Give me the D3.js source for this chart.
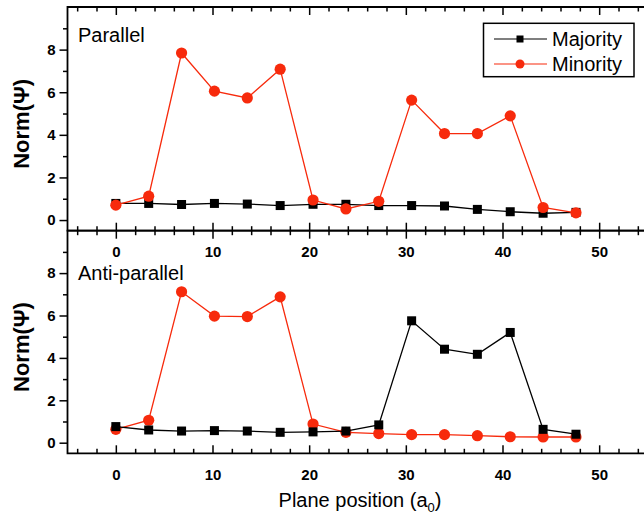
<!DOCTYPE html>
<html>
<head>
<meta charset="utf-8">
<script src="https://cdn.jsdelivr.net/npm/d3@7"></script>
<style>
  body { margin: 0; background: #fff; }
  svg { display: block; font-family: "Liberation Sans", Arial, sans-serif; }
</style>
</head>
<body>
<div id="chart"></div>
<script>
// plane positions (a0)
var position = [0, 3.4, 6.8, 10.2, 13.6, 17, 20.4, 23.8, 27.2, 30.6, 34, 37.4, 40.8, 44.2, 47.6];

// parallel panel
var parMajority = [0.78, 0.78, 0.73, 0.78, 0.75, 0.68, 0.74, 0.74, 0.68, 0.68, 0.66, 0.5, 0.39, 0.32, 0.36];
var parMinority = [0.70, 1.12, 7.84, 6.05, 5.73, 7.08, 0.94, 0.52, 0.88, 5.63, 4.06, 4.06, 4.89, 0.59, 0.34];

// anti-parallel panel
var antiMajority = [0.76, 0.6, 0.55, 0.57, 0.55, 0.49, 0.51, 0.55, 0.84, 5.75, 4.41, 4.17, 5.2, 0.63, 0.4];
var antiMinority = [0.63, 1.06, 7.12, 5.97, 5.95, 6.88, 0.88, 0.49, 0.43, 0.38, 0.38, 0.33, 0.28, 0.27, 0.27];

var panelNames = ["Parallel", "Anti-parallel"];
var seriesNames = ["Majority", "Minority"];
var xTicks = [0, 10, 20, 30, 40, 50];
var yTicks = [0, 2, 4, 6, 8];

var width = 644, height = 516,
    red = "#f72a0c",
    left = 67.5, right = 647.5,
    panels = [
      { name: panelNames[0], top: 7, bottom: 230.7, maj: parMajority, min: parMinority },
      { name: panelNames[1], top: 230.7, bottom: 453.3, maj: antiMajority, min: antiMinority }
    ];

var svg = d3.select("#chart").append("svg")
    .attr("width", width)
    .attr("height", height);

var x = d3.scaleLinear().domain([-5, 55]).range([left, right]);
var xMinor = d3.range(-4, 55, 2).filter(function (d) { return d % 10 != 0; });
var yMinor = [1, 3, 5, 7, 9];

panels.forEach(function (p, k) {
  var y = d3.scaleLinear().domain([-0.5, 10]).range([p.bottom, p.top]);
  var g = svg.append("g");

  // bottom axis (ticks inward), labels below
  g.append("g")
      .attr("transform", "translate(0," + p.bottom + ")")
      .call(d3.axisBottom(x).tickValues(xMinor).tickSize(-4.5).tickFormat(""))
      .call(function (a) { a.select(".domain").remove(); });
  g.append("g")
      .attr("class", "xb")
      .attr("transform", "translate(0," + p.bottom + ")")
      .call(d3.axisBottom(x).tickValues(xTicks).tickSize(-8).tickPadding(21))
      .call(function (a) { a.select(".domain").remove(); });

  // top axis (ticks inward, no labels)
  g.append("g")
      .attr("transform", "translate(0," + p.top + ")")
      .call(d3.axisTop(x).tickValues(xMinor).tickSize(-4.5).tickFormat(""))
      .call(function (a) { a.select(".domain").remove(); });
  g.append("g")
      .attr("transform", "translate(0," + p.top + ")")
      .call(d3.axisTop(x).tickValues(xTicks).tickSize(-8).tickFormat(""))
      .call(function (a) { a.select(".domain").remove(); });

  // left axis (ticks outward)
  g.append("g")
      .attr("transform", "translate(" + left + ",0)")
      .call(d3.axisLeft(y).tickValues(yMinor).tickSize(4.5).tickFormat(""))
      .call(function (a) { a.select(".domain").remove(); });
  g.append("g")
      .attr("class", "yl")
      .attr("transform", "translate(" + left + ",0)")
      .call(d3.axisLeft(y).tickValues(yTicks).tickSize(8).tickPadding(4))
      .call(function (a) { a.select(".domain").remove(); });

  // frame
  g.append("path")
      .attr("d", "M" + right + "," + p.top + "H" + left + "V" + p.bottom + "H" + right)
      .attr("fill", "none")
      .attr("stroke", "#000")
      .attr("stroke-width", 1.8);

  g.selectAll(".tick line").attr("stroke", "#000").attr("stroke-width", 1.5);
  g.selectAll(".xb text").attr("dy", "0.35em");
  g.selectAll(".tick text")
      .attr("fill", "#000")
      .style("font-size", "15px")
      .style("font-weight", "bold");

  // panel name
  g.append("text")
      .attr("x", 78)
      .attr("y", k == 0 ? 42.3 : 280)
      .style("font-size", "20px")
      .text(p.name);

  // y title
  g.append("text")
      .attr("transform", "translate(29," + ((p.top + p.bottom) / 2 + 5) + ") rotate(-90)")
      .attr("text-anchor", "middle")
      .style("font-size", "22px")
      .style("font-weight", "bold")
      .text("Norm(Ψ)");

  var line = d3.line()
      .x(function (d, i) { return x(position[i]); })
      .y(function (d) { return y(d); });

  var series = [
    { vals: p.maj, color: "#000", shape: "square" },
    { vals: p.min, color: red, shape: "circle" }
  ];
  // black drawn over red in the anti-parallel panel, under it in the parallel one
  if (k == 1) series.reverse();

  series.forEach(function (s) {
    g.append("path")
        .datum(s.vals)
        .attr("d", line)
        .attr("fill", "none")
        .attr("stroke", s.color)
        .attr("stroke-width", 1.3);
    if (s.shape == "square") {
      g.selectAll(null).data(s.vals).enter().append("rect")
          .attr("x", function (d, i) { return x(position[i]) - 4.5; })
          .attr("y", function (d) { return y(d) - 4.5; })
          .attr("width", 9)
          .attr("height", 9)
          .attr("fill", "#000");
    } else {
      g.selectAll(null).data(s.vals).enter().append("circle")
          .attr("cx", function (d, i) { return x(position[i]); })
          .attr("cy", function (d) { return y(d); })
          .attr("r", 5.6)
          .attr("fill", red);
    }
  });
});

// x title
var xt = svg.append("text")
    .attr("x", 360)
    .attr("y", 506.5)
    .attr("text-anchor", "middle")
    .style("font-size", "20px");
xt.append("tspan").text("Plane position (a");
xt.append("tspan").attr("dy", 5).style("font-size", "13px").text("0");
xt.append("tspan").attr("dy", -5).text(")");

// legend
var legend = svg.append("g");
legend.append("rect")
    .attr("x", 483.5).attr("y", 23.3)
    .attr("width", 150.5).attr("height", 53.4)
    .attr("fill", "#fff")
    .attr("stroke", "#000")
    .attr("stroke-width", 1.5);

var rows = legend.selectAll("g.row").data(seriesNames).enter().append("g")
    .attr("class", "row")
    .attr("transform", function (d, i) { return "translate(0," + (39 + i * 25) + ")"; });
rows.append("line")
    .attr("x1", 494).attr("x2", 547)
    .attr("stroke", function (d, i) { return i == 0 ? "#000" : red; })
    .attr("stroke-width", 1.2);
rows.filter(function (d, i) { return i == 0; }).append("rect")
    .attr("x", 516.5).attr("y", -3.5).attr("width", 7).attr("height", 7)
    .attr("fill", "#000");
rows.filter(function (d, i) { return i == 1; }).append("circle")
    .attr("cx", 520).attr("r", 4.5)
    .attr("fill", red);
rows.append("text")
    .attr("x", 552)
    .attr("dy", "0.35em")
    .style("font-size", "20px")
    .text(function (d) { return d; });
</script>
</body>
</html>
